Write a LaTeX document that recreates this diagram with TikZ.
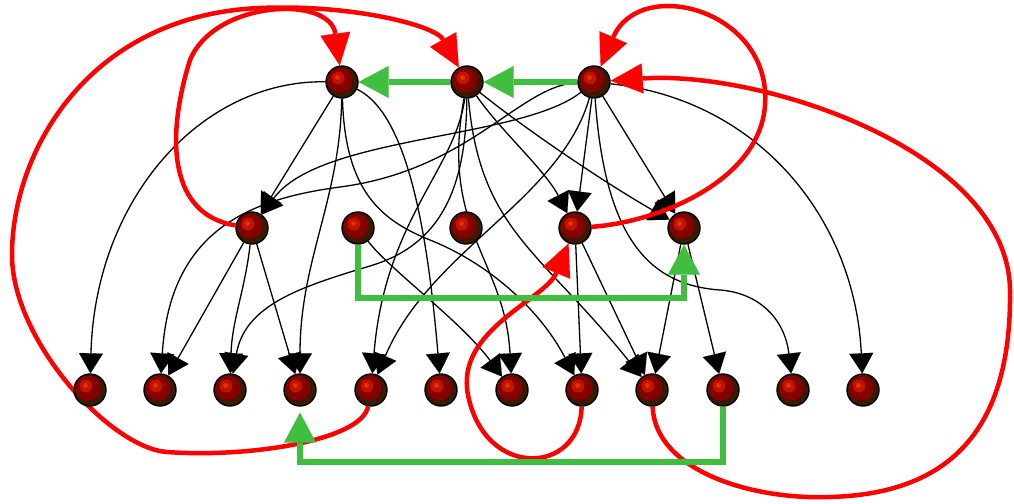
\documentclass[tikz,border=0pt]{standalone}
\usetikzlibrary{arrows.meta}
\definecolor{balldark}{RGB}{58,26,0}
\definecolor{ballred}{RGB}{135,0,0}
\definecolor{ballmid}{RGB}{190,20,0}
\definecolor{ballhot}{RGB}{235,45,0}
\definecolor{grn}{RGB}{64,190,64}
\definecolor{rd}{RGB}{255,0,0}
\pgfdeclarelayer{back}
\pgfdeclarelayer{edges}
\pgfsetlayers{back,edges,main}

\begin{document}
\begin{tikzpicture}[x=1pt,y=-1pt,
  bead/.style={circle, minimum size=32pt, inner sep=0pt, draw=black, line width=1.4pt, fill=balldark,
    path picture={
      \fill[ballred] ([xshift=-2pt,yshift=2pt]path picture bounding box.center) circle (12.5pt);
      \fill[ballmid] ([xshift=-4pt,yshift=4pt]path picture bounding box.center) circle (6.5pt);
      \fill[ballhot] ([xshift=-4.5pt,yshift=4.5pt]path picture bounding box.center) circle (2.5pt);
    }},
  blk/.style={draw=black, line width=1.3pt, -{Triangle[length=20pt,width=24pt,line width=0.1pt]}},
  redarr/.style={draw=rd, line width=4.5pt, -{Triangle[length=32pt,width=30pt,line width=0.1pt]}},
  grnarr/.style={draw=grn, line width=5.5pt, -{Triangle[length=30pt,width=32pt,line width=0.1pt]}}]

\useasboundingbox (0,0) rectangle (1014,503);
\begin{pgfonlayer}{back}
  \fill[white] (0,0) rectangle (1014,503);
\end{pgfonlayer}

% top row
\node[bead] (T1) at (342,82) {};
\node[bead] (T2) at (467,82) {};
\node[bead] (T3) at (594,82) {};
% middle row
\node[bead] (M1) at (252,228) {};
\node[bead] (M2) at (358,228) {};
\node[bead] (M3) at (466,228) {};
\node[bead] (M4) at (575,228) {};
\node[bead] (M5) at (684,228) {};
% bottom row
\node[bead] (B1) at (90,390) {};
\node[bead] (B2) at (160,390) {};
\node[bead] (B3) at (230,390) {};
\node[bead] (B4) at (300,390) {};
\node[bead] (B5) at (371,390) {};
\node[bead] (B6) at (441,390) {};
\node[bead] (B7) at (512,390) {};
\node[bead] (B8) at (582,390) {};
\node[bead] (B9) at (652,390) {};
\node[bead] (B10) at (723,390) {};
\node[bead] (B11) at (793,390) {};
\node[bead] (B12) at (863,390) {};

\coordinate (g1) at (684,298);
\coordinate (g2) at (300,462);

\begin{pgfonlayer}{edges}
  % black dependency edges
  \draw[blk] (T1) -- (M1);
  \draw[blk] (T3) .. controls (520,140) and (320,135) .. (M1);
  \draw[blk] (T1) .. controls (200,80) and (95,200) .. (B1);
  \draw[blk] (T3) .. controls (520,85) and (470,170) .. (340,187) .. controls (250,199) and (170,230) .. (B2);
  \draw[blk] (M1) -- (B2);
  \draw[blk] (M1) .. controls (245,290) and (232,320) .. (B3);
  \draw[blk] (T2) .. controls (466,190) and (440,245) .. (370,266) .. controls (300,287) and (245,305) .. (B3);
  \draw[blk] (T1) .. controls (340,200) and (300,260) .. (B4);
  \draw[blk] (M1) -- (B4);
  \draw[blk] (T2) .. controls (455,170) and (385,220) .. (B5);
  \draw[blk] (T3) .. controls (560,200) and (430,250) .. (B5);
  \draw[blk] (T1) .. controls (400,110) and (425,200) .. (B6);
  \draw[blk] (M2) .. controls (390,270) and (460,320) .. (B7);
  \draw[blk] (T2) .. controls (440,230) and (505,260) .. (B7);
  \draw[blk] (T1) .. controls (345,190) and (380,220) .. (430,240) .. controls (490,264) and (540,310) .. (B8);
  \draw[blk] (M4) -- (B8);
  \draw[blk] (M4) -- (B9);
  \draw[blk] (T2) .. controls (480,230) and (540,250) .. (B9);
  \draw[blk] (M5) -- (B9);
  \draw[blk] (M5) -- (B10);
  \draw[blk] (T3) .. controls (605,240) and (650,285) .. (720,290) .. controls (760,293) and (785,320) .. (B11);
  \draw[blk] (T3) .. controls (760,100) and (855,220) .. (B12);
  \draw[blk] (T2) .. controls (500,130) and (545,170) .. (M4);
  \draw[blk] (T3) -- (M4);
  \draw[blk] (T3) -- (M5);
  \draw[blk] (T2) .. controls (520,125) and (600,180) .. (M5);

  % red loops
  \draw[redarr] (M1) .. controls (170,215) and (165,140) .. (190,60) .. controls (215,0) and (330,-5) .. (T1);
  \draw[redarr] (B5) .. controls (362,440) and (250,458) .. (167,452) .. controls (110,448) and (12,340) .. (12,255)
                 .. controls (12,150) and (90,15) .. (260,8) .. controls (350,4) and (435,25) .. (T2);
  \draw[redarr] (M4) .. controls (660,222) and (760,180) .. (765,105) .. controls (772,10) and (640,-25) .. (T3);
  \draw[redarr] (B9) .. controls (655,470) and (750,500) .. (830,497) .. controls (940,494) and (1012,440) .. (1010,290)
                 .. controls (1008,150) and (760,70) .. (T3);
  \draw[redarr] (B8) .. controls (580,475) and (485,480) .. (468,395) .. controls (455,330) and (545,300) .. (M4);

  % green links
  \draw[grnarr] (T3) -- (T2);
  \draw[grnarr] (T2) -- (T1);
  \draw[grnarr] (M2) |- (g1) -- (M5);
  \draw[grnarr, shorten >=6pt] (B10) |- (g2) -- (B4);
\end{pgfonlayer}
\end{tikzpicture}
\end{document}
